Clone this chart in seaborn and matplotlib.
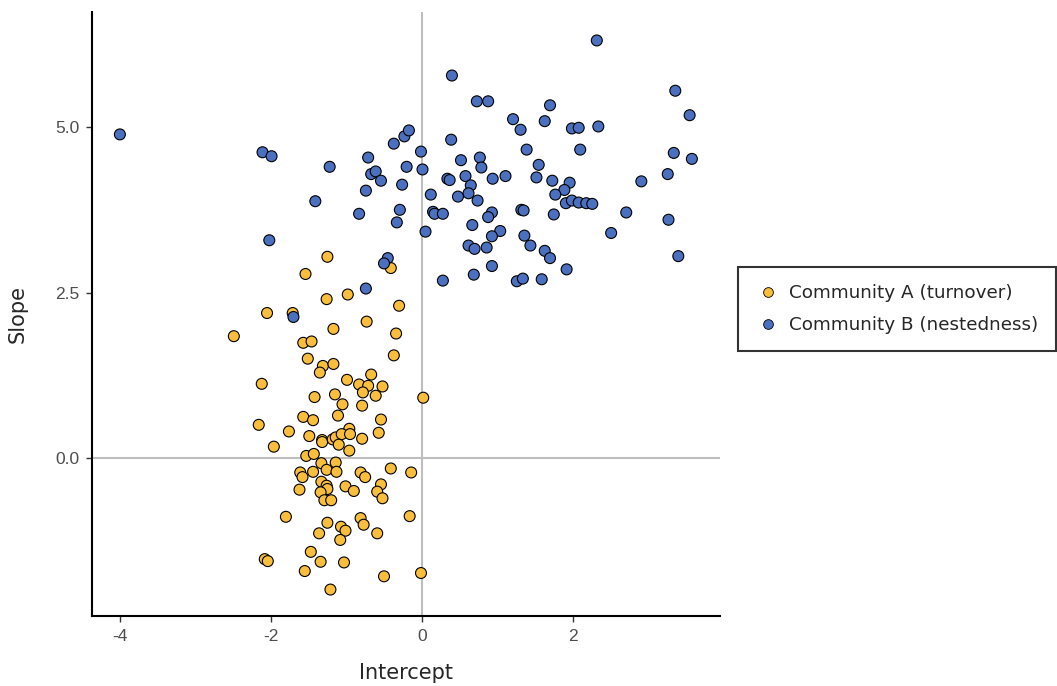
import numpy as np
import pandas as pd
import seaborn as sns
import matplotlib.pyplot as plt

# Community A (turnover)
a_intercept = [-1.25, -1.54, -0.41, -1.26, -0.98, -0.30, -2.05, -1.71, -2.49, -1.17,
               -0.73, -0.34, -1.57, -1.46, -0.37, -1.51, -1.31, -1.35, -1.17, -2.12,
               -0.99, -0.67, -0.83, -0.71, -0.78, -0.52, -0.61, 0.02, -1.42, -1.15,
               -1.05, -0.79, -1.11, -1.57, -1.44, -2.16, -0.54, -1.76, -1.49, -0.96,
               -0.57, -1.32, -1.32, -1.18, -1.14, -1.06, -1.10, -0.95, -0.79, -1.96,
               -0.96, -1.53, -1.43, -1.33, -1.14, -1.26, -1.13, -1.44, -1.61, -1.58,
               -0.81, -0.75, -0.41, -0.14, -1.33, -1.26, -1.25, -1.34, -1.62, -1.01,
               -0.90, -0.54, -0.59, -0.52, -1.29, -1.20, -1.80, -1.25, -1.36, -1.07,
               -1.01, -1.08, -0.81, -0.77, -0.59, -0.16, -1.47, -2.08, -2.04, -1.34,
               -1.03, -1.55, -0.50, -0.01, -1.21]
a_slope = [3.04, 2.78, 2.87, 2.40, 2.47, 2.30, 2.19, 2.19, 1.84, 1.95,
           2.06, 1.88, 1.74, 1.76, 1.55, 1.50, 1.39, 1.29, 1.42, 1.12,
           1.18, 1.26, 1.11, 1.09, 0.99, 1.08, 0.94, 0.91, 0.92, 0.96,
           0.81, 0.79, 0.64, 0.62, 0.57, 0.50, 0.58, 0.40, 0.33, 0.44,
           0.38, 0.27, 0.24, 0.28, 0.31, 0.36, 0.20, 0.36, 0.29, 0.17,
           0.11, 0.03, 0.06, -0.08, -0.07, -0.18, -0.21, -0.21, -0.22, -0.29,
           -0.22, -0.29, -0.16, -0.22, -0.36, -0.42, -0.47, -0.52, -0.48, -0.43,
           -0.50, -0.40, -0.51, -0.61, -0.64, -0.64, -0.89, -0.98, -1.14, -1.04,
           -1.10, -1.24, -0.91, -1.01, -1.14, -0.88, -1.42, -1.53, -1.56, -1.57,
           -1.58, -1.71, -1.79, -1.74, -1.99]

# Community B (nestedness)
b_intercept = [-4.00, -2.11, -1.99, -1.22, -0.71, -0.67, -0.61, -0.54, -0.37, -0.23,
               -0.17, -0.20, -0.26, -0.74, -1.41, -0.83, -0.29, -0.33, -2.02, -0.45,
               -0.50, -0.74, -1.70, 2.32, 0.40, 0.73, 0.88, 3.36, 3.55, 1.70,
               1.21, 1.63, 1.31, 1.99, 2.08, 2.34, 0.39, -0.01, 1.39, 2.10,
               3.34, 3.58, 0.01, 0.52, 0.77, 0.79, 1.55, 0.34, 0.37, 0.58,
               0.65, 0.62, 0.48, 0.94, 1.11, 1.52, 1.73, 1.96, 1.89, 1.77,
               1.91, 1.99, 2.08, 2.18, 2.26, 2.91, 3.26, 0.12, 0.74, 0.15,
               0.17, 0.28, 0.93, 0.88, 1.32, 1.35, 1.75, 2.71, 3.27, 0.67,
               0.05, 1.04, 0.93, 1.36, 1.44, 2.51, 0.62, 0.70, 0.86, 1.63,
               1.70, 3.40, 0.93, 0.69, 1.92, 0.28, 1.26, 1.34, 1.59]
b_slope = [4.89, 4.62, 4.56, 4.40, 4.54, 4.29, 4.33, 4.19, 4.75, 4.86,
           4.95, 4.40, 4.13, 4.04, 3.88, 3.69, 3.75, 3.56, 3.29, 3.02,
           2.94, 2.56, 2.13, 6.31, 5.78, 5.39, 5.39, 5.55, 5.18, 5.33,
           5.12, 5.09, 4.96, 4.98, 4.99, 5.01, 4.81, 4.63, 4.66, 4.66,
           4.61, 4.52, 4.36, 4.50, 4.54, 4.39, 4.43, 4.22, 4.20, 4.26,
           4.12, 4.00, 3.95, 4.22, 4.26, 4.24, 4.19, 4.16, 4.05, 3.98,
           3.85, 3.89, 3.86, 3.85, 3.84, 4.18, 4.29, 3.98, 3.89, 3.72,
           3.69, 3.69, 3.71, 3.64, 3.75, 3.74, 3.68, 3.71, 3.60, 3.52,
           3.42, 3.43, 3.35, 3.36, 3.21, 3.40, 3.21, 3.16, 3.18, 3.13,
           3.02, 3.05, 2.90, 2.77, 2.85, 2.68, 2.67, 2.71, 2.70]

labels = ["Community A (turnover)", "Community B (nestedness)"]
colors = ["#F9BE3B", "#4A70BF"]

df = pd.concat([
    pd.DataFrame({"Intercept": a_intercept, "Slope": a_slope, "group": labels[0]}),
    pd.DataFrame({"Intercept": b_intercept, "Slope": b_slope, "group": labels[1]}),
])

sns.set_style("white")
plt.rcParams['font.family'] = ['DejaVu Sans']
plt.rcParams['axes.unicode_minus'] = False

fig = plt.figure(figsize=(10.57, 6.86), dpi=100)
ax = fig.add_axes([0.087, 0.102, 0.594, 0.8805])

ax.axvline(0, color="#BEBEBE", lw=1.5, zorder=0)
ax.axhline(0, color="#BEBEBE", lw=1.5, zorder=0)

sns.scatterplot(data=df, x="Intercept", y="Slope", hue="group", hue_order=labels,
                palette=colors, s=62, edgecolor="black", linewidth=0.8, ax=ax,
                zorder=3)

ax.set_xlim(-4.37, 3.95)
ax.set_ylim(-2.39, 6.74)
ax.set_xticks([-4, -2, 0, 2])
ax.set_yticks([0.0, 2.5, 5.0])
ax.set_yticklabels(["0.0", "2.5", "5.0"])

for s in ["top", "right"]:
    ax.spines[s].set_visible(False)
for s in ["left", "bottom"]:
    ax.spines[s].set_color("black")
    ax.spines[s].set_linewidth(1.5)

ax.tick_params(axis="both", direction="out", length=4, width=1, color="#333333",
               labelcolor="#4D4D4D", labelsize=12.5, bottom=True, left=True, pad=5)
for lab in ax.get_xticklabels() + ax.get_yticklabels():
    lab.set_family("Liberation Sans")

ax.set_xlabel("Intercept", fontsize=15, labelpad=14)
ax.set_ylabel("Slope", fontsize=15, labelpad=20)

handles, _ = ax.get_legend_handles_labels()
for h in handles:
    h.set_markersize(7)
    h.set_markeredgewidth(0.6)
leg = ax.legend(handles, labels, loc="upper left", bbox_to_anchor=(0.698, 0.611),
                bbox_transform=fig.transFigure, borderaxespad=0, fontsize=13.2,
                frameon=True, fancybox=False, edgecolor="black",
                handletextpad=0.45, borderpad=0.95, labelspacing=0.75,
                handlelength=1.4)
leg.get_frame().set_linewidth(1.5)

fig.savefig("out.png", dpi=100)
